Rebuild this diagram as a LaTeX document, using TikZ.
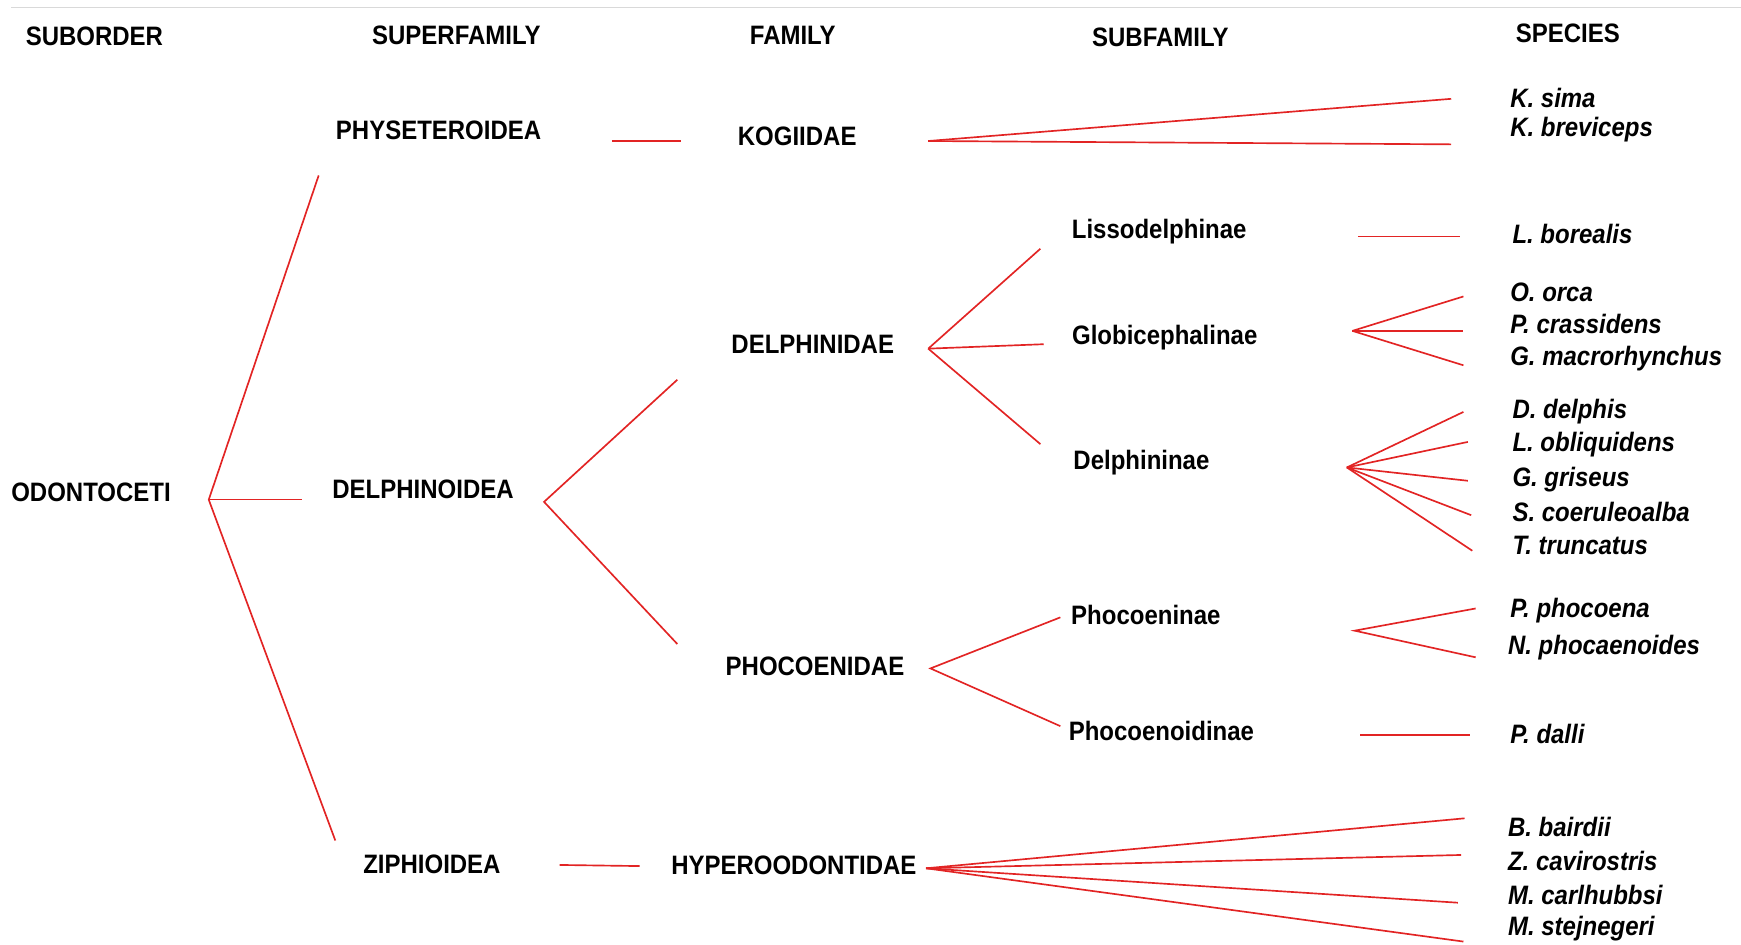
\documentclass[tikz,border=0pt]{standalone}
\usepackage{fontspec}
\setmainfont{Liberation Sans}[FakeStretch=0.9]
\definecolor{brred}{RGB}{226,36,36}
\begin{document}
\begin{tikzpicture}[x=1pt,y=-1pt,
  lbl/.style={font=\fontsize{24}{28}\selectfont\bfseries, inner sep=0pt, text=black},
  sp/.style={font=\fontsize{24}{28}\selectfont\bfseries\itshape, inner sep=0pt, anchor=west, text=black},
  br/.style={draw=brred, line width=1.5pt}]
\useasboundingbox (0,0) rectangle (1568,851);
\coordinate (tl) at (10,7); \coordinate (tr) at (1568,7);
\draw[black!15, line width=1pt] (tl) -- (tr);
% headers
\node[lbl] (h1) at (85,33) {SUBORDER};
\node[lbl] (h2) at (411,32) {SUPERFAMILY};
\node[lbl] (h3) at (714,32) {FAMILY};
\node[lbl] (h4) at (1045,34) {SUBFAMILY};
\node[lbl] (h5) at (1412,30) {SPECIES};
% taxa
\node[lbl] (odo) at (82,443) {ODONTOCETI};
\node[lbl] (phy) at (395,117) {PHYSETEROIDEA};
\node[lbl] (del) at (381,441) {DELPHINOIDEA};
\node[lbl] (zip) at (389,778) {ZIPHIOIDEA};
\node[lbl] (kog) at (718,123) {KOGIIDAE};
\node[lbl] (dlf) at (732,310) {DELPHINIDAE};
\node[lbl] (pho) at (734,600) {PHOCOENIDAE};
\node[lbl] (hyp) at (715,779) {HYPEROODONTIDAE};
\node[lbl] (lis) at (1044,209) {Lissodelphinae};
\node[lbl] (glo) at (1049,304) {Globicephalinae};
\node[lbl] (dln) at (1028,417) {Delphininae};
\node[lbl] (phn) at (1032,554) {Phocoeninae};
\node[lbl] (phd) at (1046,658) {Phocoenoidinae};
% species
\node[sp] (s1) at (1360,88) {K. sima};
\node[sp] (s2) at (1360,117) {K. breviceps};
\node[sp] (s3) at (1362,211) {L. borealis};
\node[sp] (s4) at (1360,263) {O. orca};
\node[sp] (s5) at (1360,292) {P. crassidens};
\node[sp] (s6) at (1360,323) {G. macrorhynchus};
\node[sp] (s7) at (1362,371) {D. delphis};
\node[sp] (s8) at (1362,400) {L. obliquidens};
\node[sp] (s9) at (1362,432) {G. griseus};
\node[sp] (s10) at (1362,461) {S. coeruleoalba};
\node[sp] (s11) at (1362,491) {T. truncatus};
\node[sp] (s12) at (1360,550) {P. phocoena};
\node[sp] (s13) at (1358,583) {N. phocaenoides};
\node[sp] (s14) at (1360,661) {P. dalli};
\node[sp] (s15) at (1358,745) {B. bairdii};
\node[sp] (s16) at (1358,775) {Z. cavirostris};
\node[sp] (s17) at (1358,806) {M. carlhubbsi};
\node[sp] (s18) at (1358,836) {M. stejnegeri};
% branch coordinates
\coordinate (fO) at (188,450);
\coordinate (eO1) at (287,158); \coordinate (eO2) at (272,450); \coordinate (eO3) at (302,757);
\coordinate (pA) at (551,127); \coordinate (pB) at (613,127);
\coordinate (fK) at (836,127);
\coordinate (eK1) at (1307,89); \coordinate (eK2) at (1307,130);
\coordinate (fD) at (490,452);
\coordinate (eD1) at (610,342); \coordinate (eD2) at (610,580);
\coordinate (fDf) at (836,314);
\coordinate (eDf1) at (937,224); \coordinate (eDf2) at (940,310); \coordinate (eDf3) at (937,400);
\coordinate (lA) at (1223,213); \coordinate (lB) at (1315,213);
\coordinate (fG) at (1218,298);
\coordinate (eG1) at (1318,267); \coordinate (eG2) at (1318,298); \coordinate (eG3) at (1318,329);
\coordinate (fDn) at (1213,421);
\coordinate (eDn1) at (1318,371); \coordinate (eDn2) at (1322,398); \coordinate (eDn3) at (1322,433);
\coordinate (eDn4) at (1325,464); \coordinate (eDn5) at (1326,496);
\coordinate (fP) at (838,602);
\coordinate (eP1) at (955,556); \coordinate (eP2) at (955,654);
\coordinate (fPn) at (1220,568);
\coordinate (ePn1) at (1329,548); \coordinate (ePn2) at (1329,592);
\coordinate (dA) at (1225,662); \coordinate (dB) at (1324,662);
\coordinate (zA) at (504,779); \coordinate (zB) at (576,780);
\coordinate (fH) at (834,782);
\coordinate (eH1) at (1319,737); \coordinate (eH2) at (1316,770); \coordinate (eH3) at (1313,813); \coordinate (eH4) at (1318,848);
% branches
\draw[br] (eO1) -- (fO) -- (eO3); \draw[br] (fO) -- (eO2);
\draw[br] (pA) -- (pB);
\draw[br] (fK) -- (eK1); \draw[br] (fK) -- (eK2);
\draw[br] (eD1) -- (fD) -- (eD2);
\draw[br] (fDf) -- (eDf1); \draw[br] (fDf) -- (eDf2); \draw[br] (fDf) -- (eDf3);
\draw[br] (lA) -- (lB);
\draw[br] (fG) -- (eG1); \draw[br] (fG) -- (eG2); \draw[br] (fG) -- (eG3);
\draw[br] (fDn) -- (eDn1); \draw[br] (fDn) -- (eDn2); \draw[br] (fDn) -- (eDn3); \draw[br] (fDn) -- (eDn4); \draw[br] (fDn) -- (eDn5);
\draw[br] (eP1) -- (fP) -- (eP2);
\draw[br] (ePn1) -- (fPn) -- (ePn2);
\draw[br] (dA) -- (dB);
\draw[br] (zA) -- (zB);
\draw[br] (fH) -- (eH1); \draw[br] (fH) -- (eH2); \draw[br] (fH) -- (eH3); \draw[br] (fH) -- (eH4);
\end{tikzpicture}
\end{document}
